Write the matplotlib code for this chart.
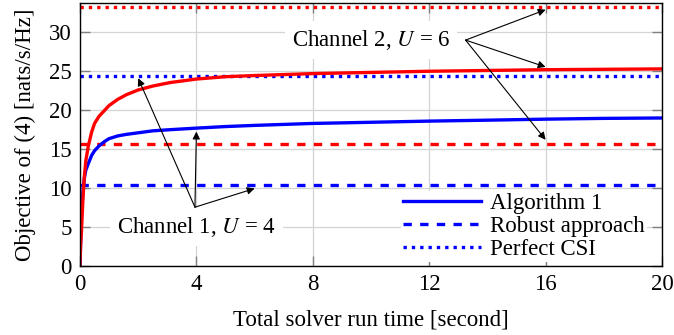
import matplotlib
matplotlib.use("Agg")
import matplotlib.pyplot as plt
from matplotlib.lines import Line2D

plt.rcParams['font.family'] = ['Liberation Serif', 'DejaVu Serif']
plt.rcParams['mathtext.fontset'] = 'stix'

# ---- data ----
t = [0, 0.02, 0.05, 0.1, 0.15, 0.2, 0.28, 0.4, 0.5, 0.65, 0.85, 1.0, 1.3, 1.6, 2.0,
     2.5, 3.1, 4, 5, 6, 8, 10, 12, 14, 16, 18, 20]
alg_ch2 = [0, 2.5, 4.5, 8.5, 11.5, 13.5, 15.3, 17.2, 18.3, 19.2, 20.0, 20.6, 21.4, 22.0, 22.6,
           23.1, 23.55, 24.0, 24.3, 24.45, 24.7, 24.85, 25.0, 25.1, 25.2, 25.25, 25.3]
alg_ch1 = [0, 3.0, 6.7, 9.5, 11.3, 12.3, 13.1, 14.2, 14.8, 15.4, 16.0, 16.35, 16.7, 16.9, 17.1,
           17.35, 17.5, 17.7, 17.9, 18.05, 18.3, 18.45, 18.6, 18.72, 18.85, 18.95, 19.0]
robust_ch2 = 15.6
robust_ch1 = 10.4
perfect_ch2 = 33.3
perfect_ch1 = 24.4
t_range = [0, 20]

xticks = [0, 4, 8, 12, 16, 20]
yticks = [0, 5, 10, 15, 20, 25, 30]
legend_labels = ['Algorithm 1', 'Robust approach', 'Perfect CSI']

RED = '#ff0000'
BLUE = '#0000ff'
FS = 16.5
LW = 2.4
DASH = (0, (2.5, 2.5))
DOT = (0, (1, 1.5))

fig = plt.figure(figsize=(6.74, 3.35), dpi=100)
ax = fig.add_axes([80/674, 69/335, 582/674, 263.3/335])

ax.plot(t_range, [perfect_ch2]*2, color=RED, lw=LW, ls=DOT, zorder=3)
ax.plot(t_range, [perfect_ch1]*2, color=BLUE, lw=LW, ls=DOT, zorder=3)
ax.plot(t_range, [robust_ch2]*2, color=RED, lw=LW, ls=DASH, zorder=3)
ax.plot(t_range, [robust_ch1]*2, color=BLUE, lw=LW, ls=DASH, zorder=3)
ax.plot(t, alg_ch1, color=BLUE, lw=LW, zorder=4, solid_joinstyle='round')
ax.plot(t, alg_ch2, color=RED, lw=LW, zorder=4, solid_joinstyle='round')

ax.set_xlim(0, 20)
ax.set_ylim(0, 33.8)
ax.set_xticks(xticks)
ax.set_yticks(yticks)
ax.grid(True, color='#d4d4d4', lw=0.9)
ax.set_axisbelow(True)
ax.tick_params(direction='in', length=7, width=1, color='#808080',
               top=True, right=True, labelsize=FS, pad=6)
for s in ax.spines.values():
    s.set_linewidth(1.0)
    s.set_zorder(6)

ax.set_xlabel('Total solver run time [second]', fontsize=FS, labelpad=10)
ax.set_ylabel('Objective of (4) [nats/s/Hz]', fontsize=FS, labelpad=9)

arrow = dict(arrowstyle='-|>', color='k', lw=0.8, mutation_scale=11,
             shrinkA=0, shrinkB=0)
# Channel 2 annotation
for target in [(16, perfect_ch2 - 0.4), (16, 25.55), (16, robust_ch2 + 0.6)]:
    ax.annotate('', xy=target, xytext=(13.25, 29.0), arrowprops=arrow, zorder=5)
ax.text(10, 29.0, r'Channel 2, $U$ = 6', fontsize=FS, ha='center', va='center',
        zorder=4.5, bbox=dict(boxstyle='square,pad=0.3', fc='white', ec='none'))
# Channel 1 annotation
for target in [(4, 17.25), (2, 24.1), (6, 9.95)]:
    ax.annotate('', xy=target, xytext=(3.95, 7.55), arrowprops=arrow, zorder=5)
ax.text(4, 5.0, r'Channel 1, $U$ = 4', fontsize=FS, ha='center', va='center',
        zorder=4.5, bbox=dict(boxstyle='square,pad=0.3', fc='white', ec='none'))

handles = [Line2D([], [], color=BLUE, lw=LW),
           Line2D([], [], color=BLUE, lw=LW, ls=DASH),
           Line2D([], [], color=BLUE, lw=LW, ls=DOT)]
leg = ax.legend(handles, legend_labels, loc='lower right', bbox_to_anchor=(0.975, 0.015),
                fontsize=FS, frameon=True, fancybox=False, edgecolor='none',
                facecolor='white', framealpha=1, borderpad=0.1, borderaxespad=0,
                handlelength=3.4, handletextpad=0.4, labelspacing=0.08)
leg.set_zorder(5)

fig.savefig('out.png', dpi=100)
